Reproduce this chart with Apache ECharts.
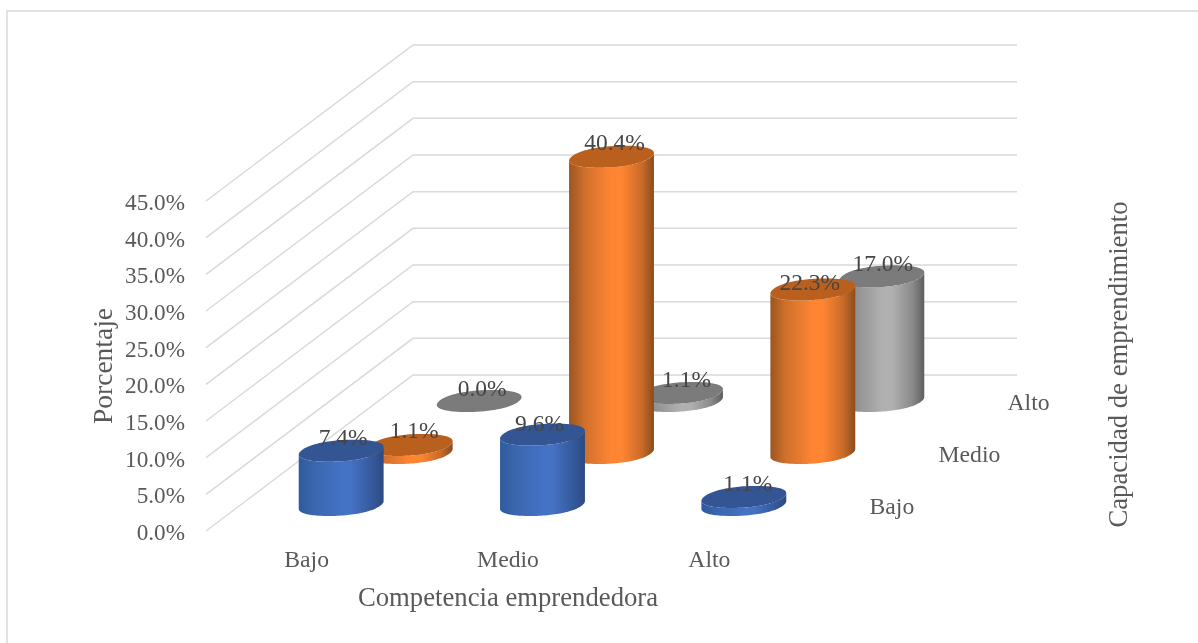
<!DOCTYPE html>
<html>
<head>
<meta charset="utf-8">
<style>html,body{margin:0;padding:0;background:#fff}#c{width:1198px;height:643px}</style>
<script src="https://cdn.jsdelivr.net/npm/echarts@6/dist/echarts.min.js"></script>
</head>
<body>
<div id="c"></div>
<script>
const categories = ['Bajo', 'Medio', 'Alto'];
const depthCategories = ['Bajo', 'Medio', 'Alto'];
const yTicks = [0, 5, 10, 15, 20, 25, 30, 35, 40, 45];
const serieBajo = [7.4, 9.6, 1.1];
const serieMedio = [1.1, 40.4, 22.3];
const serieAlto = [0.0, 1.1, 17.0];

// layout and style
const DEPTH = [207, -156];
const RX = 40, BX = 12.5, BY = -11, ROUND = 0.92;
const FONT = '"Liberation Serif","Times New Roman",serif';
const looks = [
  { top: '#335593', stops: ['#2f5a9e', '#3a66ae', '#4472c4', '#4472c4', '#35599c', '#2b4a80'] },
  { top: '#b9601f', stops: ['#9c5520', '#cf702c', '#ff8533', '#ff8533', '#c96a28', '#8a4c1d'] },
  { top: '#7b7b7b', stops: ['#6e6e6e', '#8f8f8f', '#b0b0b0', '#b0b0b0', '#8a8a8a', '#5e5e5e'] }
];
const stopAt = [0, 0.18, 0.5, 0.62, 0.86, 1];
// label offset from the top of each cylinder, [depth][category]
const labelNudge = [
  [[2, -12], [-3, -10], [4, -12]],
  [[4, -13], [3, -13], [-3, -6]],
  [[3, -11], [6, -12], [1, -12]]
];

function rimPoint(cx, cy, t) {
  const c = Math.cos(t), s = Math.sin(t);
  const u = Math.sign(c) * Math.pow(Math.abs(c), ROUND);
  const v = Math.sign(s) * Math.pow(Math.abs(s), ROUND);
  return [cx + RX * u + BX * v, cy + BY * v];
}

function rim(cx, cy, from, to, n) {
  const pts = [];
  for (let i = 0; i <= n; i++) {
    pts.push(rimPoint(cx, cy, from + (to - from) * i / n));
  }
  return pts;
}

// angle of the rightmost point of the rim, where the visible side of the cylinder begins
let tangent = 0;
for (let i = 0, best = -Infinity; i < 720; i++) {
  const t = i / 720 * Math.PI * 2;
  const x = rimPoint(0, 0, t)[0];
  if (x > best) { best = x; tangent = t; }
}

function depthShift(j) {
  return [DEPTH[0] * (j + 0.5) / 3, DEPTH[1] * (j + 0.5) / 3];
}

function cylinderSeries(values, j, z) {
  const look = looks[j];
  const colorStops = stopAt.map((o, i) => ({ offset: o, color: look.stops[i] }));
  return {
    type: 'custom',
    coordinateSystem: 'cartesian2d',
    z: z,
    silent: true,
    encode: { x: 0, y: 1 },
    data: values.map((v, i) => [i, v]),
    renderItem: function (params, api) {
      const s = depthShift(j);
      const top = api.coord([api.value(0), api.value(1)]);
      const base = api.coord([api.value(0), 0]);
      const cx = top[0] + s[0], ty = top[1] + s[1], by = base[1] + s[1];
      // front half of the rim runs from the left tangent through the lowest point to the right tangent
      const frontFrom = tangent - Math.PI, frontTo = tangent;
      const lower = rim(cx, by, frontFrom, frontTo, 64);
      const upper = rim(cx, ty, frontTo, frontFrom, 64);
      const children = [];
      if (api.value(1) > 0) {
        children.push({
          type: 'polygon',
          shape: { points: lower.concat(upper) },
          style: { fill: { type: 'linear', x: 0, y: 0, x2: 1, y2: 0, colorStops: colorStops } }
        });
      }
      children.push({
        type: 'polygon',
        z2: 2,
        shape: { points: rim(cx, ty, 0, Math.PI * 2, 128) },
        style: { fill: look.top }
      });
      return { type: 'group', children: children };
    }
  };
}

function labelSeries(values, j) {
  return {
    type: 'custom',
    coordinateSystem: 'cartesian2d',
    z: 20,
    silent: true,
    encode: { x: 0, y: 1 },
    data: values.map((v, i) => [i, v]),
    renderItem: function (params, api) {
      const s = depthShift(j);
      const p = api.coord([api.value(0), api.value(1)]);
      const n = labelNudge[j][params.dataIndex];
      return {
        type: 'text',
        style: {
          x: p[0] + s[0] + n[0], y: p[1] + s[1] + n[1],
          text: api.value(1).toFixed(1) + '%',
          align: 'center', verticalAlign: 'middle',
          font: '23.5px ' + FONT, fill: '#454545'
        }
      };
    }
  };
}

const wallSeries = {
  type: 'custom',
  coordinateSystem: 'cartesian2d',
  z: 1,
  silent: true,
  encode: { x: 0, y: 1 },
  data: yTicks.map(v => [0, v]),
  renderItem: function (params, api) {
    const cs = params.coordSys;
    const y = api.coord([0, api.value(1)])[1];
    return {
      type: 'polyline',
      shape: { points: [[cs.x, y], [cs.x + DEPTH[0], y + DEPTH[1]], [cs.x + cs.width + DEPTH[0], y + DEPTH[1]]] },
      style: { stroke: '#d9d9d9', lineWidth: 1.5, fill: 'none' }
    };
  }
};

const depthLabelSeries = {
  type: 'custom',
  coordinateSystem: 'cartesian2d',
  z: 20,
  silent: true,
  encode: { x: 0, y: 1 },
  data: depthCategories.map((c, i) => [i, 0]),
  renderItem: function (params, api) {
    const cs = params.coordSys;
    const s = depthShift(params.dataIndex);
    const y = api.coord([0, 0])[1];
    return {
      type: 'text',
      style: {
        x: cs.x + cs.width + s[0] + 25, y: y + s[1] + 2.5,
        text: depthCategories[params.dataIndex],
        align: 'left', verticalAlign: 'middle',
        font: '23.7px ' + FONT, fill: '#595959'
      }
    };
  }
};

const chart = echarts.init(document.getElementById('c'), null, { renderer: 'canvas' });
chart.setOption({
  animation: false,
  backgroundColor: '#ffffff',
  textStyle: { fontFamily: FONT },
  grid: { left: 206, top: 201, width: 604, height: 330, containLabel: false },
  xAxis: {
    type: 'category',
    data: categories,
    axisLine: { show: false },
    axisTick: { show: false },
    axisLabel: { color: '#595959', fontSize: 23.7, fontFamily: FONT, margin: 18 },
    name: 'Competencia emprendedora',
    nameLocation: 'middle',
    nameGap: 54,
    nameTextStyle: { color: '#595959', fontSize: 26.7, fontFamily: FONT }
  },
  yAxis: {
    type: 'value',
    min: 0,
    max: 45,
    interval: 5,
    axisLine: { show: false },
    axisTick: { show: false },
    splitLine: { show: false },
    axisLabel: {
      margin: 21,
      formatter: v => '{t|' + v.toFixed(1) + '%}',
      rich: {
        t: { color: '#595959', fontSize: 23.2, fontFamily: FONT, padding: [6, 0, 0, 0] }
      }
    },
    name: 'Porcentaje',
    nameLocation: 'middle',
    nameGap: 87,
    nameMoveOverlap: false,
    nameRotate: 90,
    nameTextStyle: { color: '#595959', fontSize: 27.5, fontFamily: FONT }
  },
  graphic: [
    {
      type: 'rect', silent: true, z: 0,
      shape: { x: 7, y: 11, width: 1400, height: 900 },
      style: { fill: 'none', stroke: '#d9d9d9', lineWidth: 1.5 }
    },
    {
      type: 'text', silent: true, x: 1120, y: 364.5, rotation: Math.PI / 2,
      style: {
        text: 'Capacidad de emprendimiento',
        align: 'center', verticalAlign: 'middle',
        font: '26.7px ' + FONT, fill: '#595959'
      }
    }
  ],
  series: [
    wallSeries,
    cylinderSeries(serieAlto, 2, 3),
    cylinderSeries(serieMedio, 1, 4),
    cylinderSeries(serieBajo, 0, 5),
    labelSeries(serieAlto, 2),
    labelSeries(serieMedio, 1),
    labelSeries(serieBajo, 0),
    depthLabelSeries
  ]
});
</script>
</body>
</html>
